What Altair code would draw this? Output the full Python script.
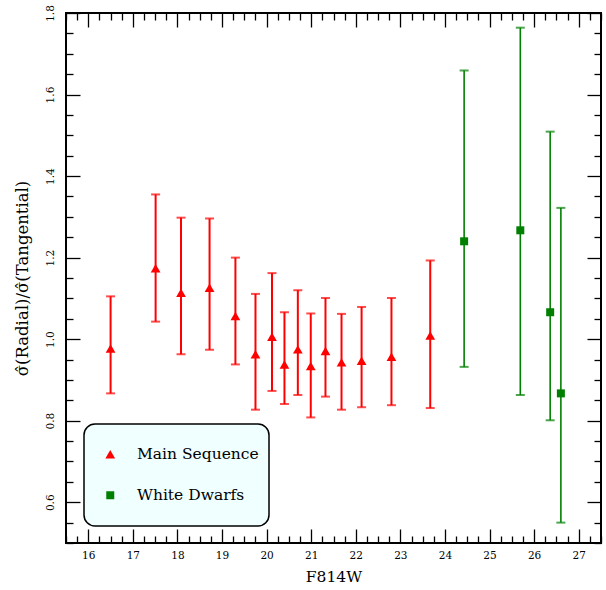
import altair as alt
import pandas as pd

# Main Sequence (red triangles)
ms_x = [16.50, 17.51, 18.08, 18.72, 19.30, 19.75, 20.12, 20.40, 20.70, 20.99, 21.32, 21.68, 22.13, 22.80, 23.67]
ms_y = [0.977, 1.174, 1.114, 1.126, 1.057, 0.963, 1.006, 0.938, 0.975, 0.934, 0.971, 0.943, 0.947, 0.957, 1.009]
ms_hi = [1.105, 1.355, 1.298, 1.296, 1.200, 1.111, 1.162, 1.066, 1.120, 1.063, 1.101, 1.062, 1.079, 1.101, 1.193]
ms_lo = [0.867, 1.043, 0.963, 0.974, 0.938, 0.827, 0.873, 0.841, 0.863, 0.808, 0.859, 0.827, 0.833, 0.838, 0.831]

# White Dwarfs (green squares)
wd_x = [24.43, 25.69, 26.36, 26.60]
wd_y = [1.240, 1.267, 1.066, 0.867]
wd_hi = [1.659, 1.764, 1.509, 1.322]
wd_lo = [0.932, 0.863, 0.801, 0.550]

groups = ["Main Sequence", "White Dwarfs"]
x_major = list(range(16, 28))
y_major = [0.6, 0.8, 1.0, 1.2, 1.4, 1.6, 1.8]

x_minor = [15.5 + 0.25 * i for i in range(49)]
x_minor = [v for v in x_minor if abs(v - round(v)) > 1e-6]
y_minor = [round(0.5 + 0.05 * i, 2) for i in range(27)]
y_minor = [v for v in y_minor if abs(v * 5 - round(v * 5)) > 1e-6]

df = pd.DataFrame({
    "mag": ms_x + wd_x,
    "ratio": ms_y + wd_y,
    "hi": ms_hi + wd_hi,
    "lo": ms_lo + wd_lo,
    "group": [groups[0]] * len(ms_x) + [groups[1]] * len(wd_x),
})

FONT = "DejaVu Serif"
xs = alt.Scale(domain=[15.5, 27.5], nice=False, zero=False)
ys = alt.Scale(domain=[0.5, 1.8], nice=False, zero=False)
cscale = alt.Scale(domain=groups, range=["#ff0000", "#008000"])

def ax(orient, values, size, labels=False, title=None, **kw):
    return alt.Axis(orient=orient, values=values, tickSize=size, offset=-size,
                    domain=False, grid=False, labels=labels, title=title,
                    tickColor="black", tickWidth=1.3, **kw)

x_bottom_major = ax("bottom", x_major, 14, labels=True, title="F814W",
                    labelPadding=7, labelFontSize=10.5, titleFontSize=15.5,
                    titlePadding=9, labelFont=FONT, titleFont=FONT)
y_left_major = ax("left", y_major, 14, labels=True,
                  title="\u03c3\u0302(Radial)/\u03c3\u0302(Tangential)",
                  format=".1f", labelAngle=-90, labelPadding=11,
                  labelFontSize=10.5, titleFontSize=16.5, titlePadding=15,
                  labelFont=FONT, titleFont=FONT)

base = alt.Chart(df)
color_nolegend = alt.Color("group:N", scale=cscale, legend=None)

rules = base.mark_rule().encode(
    x=alt.X("mag:Q", scale=xs, axis=x_bottom_major),
    y=alt.Y("lo:Q", scale=ys, axis=y_left_major),
    y2="hi:Q",
    color=color_nolegend,
    strokeWidth=alt.StrokeWidth("group:N", scale=alt.Scale(domain=groups, range=[2.0, 1.6]), legend=None),
)

caps_top = base.mark_tick(orient="horizontal", size=9, thickness=2).encode(
    x=alt.X("mag:Q", scale=xs, axis=ax("bottom", x_minor, 7)),
    y=alt.Y("hi:Q", scale=ys, axis=ax("left", y_minor, 7)),
    color=color_nolegend,
)

caps_bot = base.mark_tick(orient="horizontal", size=9, thickness=2).encode(
    x=alt.X("mag:Q", scale=xs, axis=ax("top", x_major, 14)),
    y=alt.Y("lo:Q", scale=ys, axis=ax("right", y_major, 14)),
    color=color_nolegend,
)

leg = alt.Legend(orient="none", legendX=18, legendY=411, title=None,
                 fillColor="#F0FFFF", strokeColor="black",
                 cornerRadius=11, padding=10, rowPadding=0, clipHeight=40.5,
                 symbolOffset=8.5, labelOffset=19, symbolSize=80,
                 labelFontSize=15.5, labelFont=FONT, labelColor="black",
                 symbolStrokeWidth=0, symbolOpacity=1)

points = base.mark_point(filled=True, opacity=1).encode(
    x=alt.X("mag:Q", scale=xs, axis=ax("top", x_minor, 7)),
    y=alt.Y("ratio:Q", scale=ys, axis=ax("right", y_minor, 7)),
    color=alt.Color("group:N", scale=cscale, legend=leg),
    shape=alt.Shape("group:N", scale=alt.Scale(domain=groups, range=["triangle-up", "square"]),
                    legend=leg),
    size=alt.Size("group:N", scale=alt.Scale(domain=groups, range=[95, 64]), legend=None),
)

chart = alt.layer(rules, caps_top, caps_bot, points).resolve_axis(
    x="independent", y="independent"
).resolve_scale(
    color="independent", shape="independent", size="independent",
    strokeWidth="independent"
).properties(
    width=535, height=530,
    autosize=alt.AutoSizeParams(type="none"),
    padding={"left": 66, "top": 13, "right": 5, "bottom": 47},
).configure_view(
    stroke="black", strokeWidth=2
).configure_axis(
    labelFont=FONT, titleFont=FONT, labelColor="black", titleColor="black",
    titleFontWeight="normal"
).configure_legend(
    strokeWidth=1.5, labelFont=FONT, labelColor="black"
)

chart.save("out.html", embed_options={"renderer": "svg", "actions": False})
